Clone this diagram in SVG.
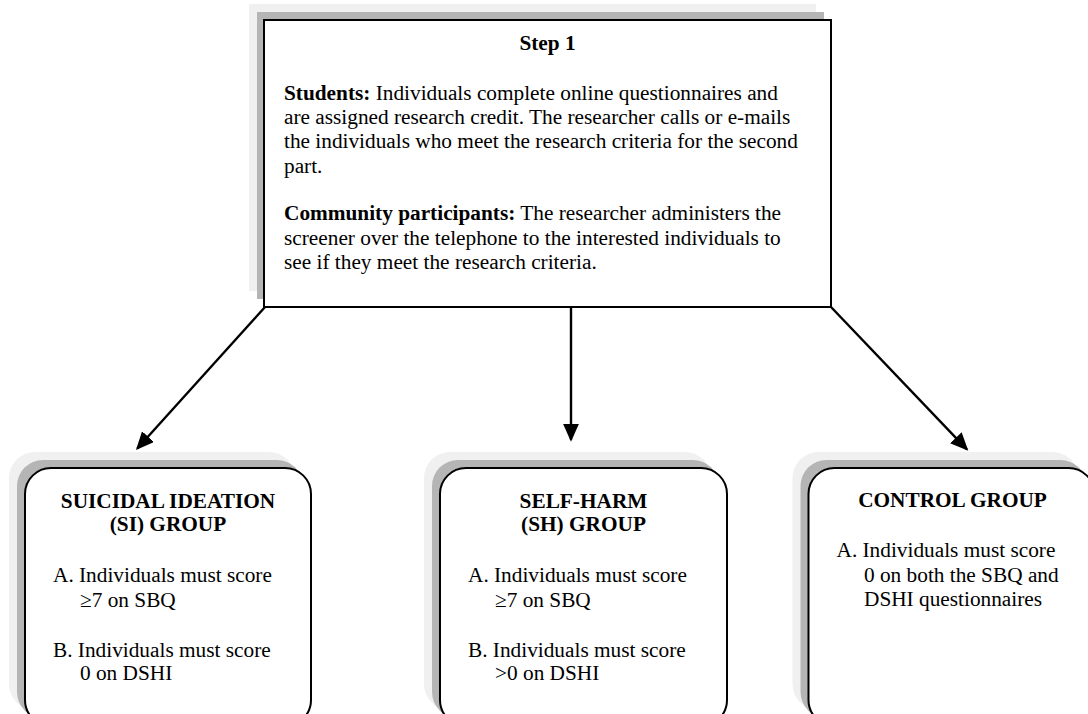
<svg xmlns="http://www.w3.org/2000/svg" width="1088" height="714" viewBox="0 0 1088 714">
<style>
.sh1{fill:#f0f0f0;}
.sh2{fill:#b5b5b5;}
.box{fill:#ffffff;stroke:#000000;stroke-width:2;}
.t{font-family:"Liberation Serif","Times New Roman",serif;font-size:21.3px;fill:#000000;}
.b{font-weight:bold;}
.c{text-anchor:middle;}
.con{stroke:#000000;stroke-width:2.4;fill:none;marker-end:url(#arr);}
</style>
<defs>
<marker id="arr" viewBox="0 0 18 16" refX="16" refY="8" markerWidth="18" markerHeight="16" markerUnits="userSpaceOnUse" orient="auto">
<path d="M0,0 L18,8 L0,16 Z" fill="#000000"/>
</marker>
</defs>
<rect width="1088" height="714" fill="#ffffff"/>

<g id="step1">
<rect class="sh1" x="249" y="4" width="567" height="287"/>
<rect class="sh2" x="257" y="12" width="567" height="287"/>
<rect class="box" x="264" y="20" width="567" height="287"/>
<text class="t b c" x="547.5" y="50">Step 1</text>
<text class="t" x="284" y="100"><tspan class="b">Students:</tspan> Individuals complete online questionnaires and</text>
<text class="t" x="284" y="124">are assigned research credit. The researcher calls or e-mails</text>
<text class="t" x="284" y="148">the individuals who meet the research criteria for the second</text>
<text class="t" x="284" y="172.5">part.</text>
<text class="t" x="284" y="220"><tspan class="b">Community participants:</tspan> The researcher administers the</text>
<text class="t" x="284" y="244.5">screener over the telephone to the interested individuals to</text>
<text class="t" x="284" y="268.5">see if they meet the research criteria.</text>
</g>

<g id="connectors">
<line class="con" x1="265" y1="307" x2="137.3" y2="448.5"/>
<line class="con" x1="571" y1="307" x2="571" y2="439.7"/>
<line class="con" x1="831" y1="307" x2="966.9" y2="449.3"/>
</g>

<g id="si-group">
<rect class="sh1" x="9" y="452" width="286" height="258" rx="26" ry="26"/>
<rect class="sh2" x="17" y="460" width="286" height="258" rx="26" ry="26"/>
<rect class="box" x="25" y="468" width="286" height="258" rx="26" ry="26"/>
<text class="t b c" x="168" y="508">SUICIDAL IDEATION</text>
<text class="t b c" x="168" y="531">(SI) GROUP</text>
<text class="t" x="53" y="582">A. Individuals must score</text>
<text class="t" x="80" y="606.5">≥7 on SBQ</text>
<text class="t" x="53" y="657">B. Individuals must score</text>
<text class="t" x="80" y="680">0 on DSHI</text>
</g>

<g id="sh-group">
<rect class="sh1" x="424" y="452" width="287" height="258" rx="26" ry="26"/>
<rect class="sh2" x="432" y="460" width="287" height="258" rx="26" ry="26"/>
<rect class="box" x="440" y="468" width="287" height="258" rx="26" ry="26"/>
<text class="t b c" x="583.5" y="508">SELF-HARM</text>
<text class="t b c" x="583.5" y="531">(SH) GROUP</text>
<text class="t" x="468" y="582">A. Individuals must score</text>
<text class="t" x="495" y="606.5">≥7 on SBQ</text>
<text class="t" x="468" y="657">B. Individuals must score</text>
<text class="t" x="495" y="680">&gt;0 on DSHI</text>
</g>

<g id="control-group">
<rect class="sh1" x="792.5" y="452" width="286" height="258" rx="26" ry="26"/>
<rect class="sh2" x="800.5" y="460" width="286" height="258" rx="26" ry="26"/>
<rect class="box" x="808.5" y="468" width="286" height="258" rx="26" ry="26"/>
<text class="t b c" x="952.5" y="507">CONTROL GROUP</text>
<text class="t" x="836.5" y="557">A. Individuals must score</text>
<text class="t" x="864" y="581.5">0 on both the SBQ and</text>
<text class="t" x="864" y="605.5">DSHI questionnaires</text>
</g>
</svg>
